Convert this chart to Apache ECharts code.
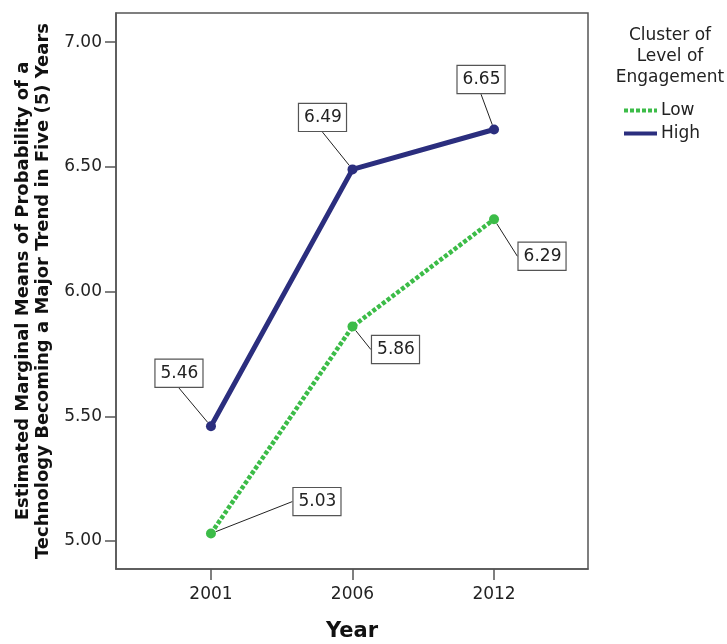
<!DOCTYPE html>
<html>
<head>
<meta charset="utf-8">
<script src="https://cdn.jsdelivr.net/npm/echarts@6/dist/echarts.min.js"></script>
<style>
  html, body { margin: 0; padding: 0; background: #fff; }
  #chart { width: 727px; height: 644px; }
</style>
</head>
<body>
<div id="chart"></div>
<script>
// Survey years on the x axis
const years = ['2001', '2006', '2012'];
// Estimated marginal means per engagement cluster
const lowValues = [5.03, 5.86, 6.29];
const highValues = [5.46, 6.49, 6.65];
// Y axis tick values
const yTicks = [5.0, 5.5, 6.0, 6.5, 7.0];

// label offsets (pixels) from each point to its callout box
const lowOffsets = [[106, -32], [43, 23], [48, 37]];
const highOffsets = [[-32, -53], [-30, -52], [-13, -50]];

const FONT = 'DejaVu Sans';
const navy = '#2b2e7e';
const green = '#3cbc48';

const chart = echarts.init(document.getElementById('chart'), null, { renderer: 'canvas' });

function pts(vals) { return vals.map((v, i) => [i, v]); }

const calloutLabel = {
  show: true,
  position: 'inside',
  formatter: p => p.value[1].toFixed(2),
  fontFamily: FONT,
  fontSize: 17,
  color: '#222',
  backgroundColor: '#fff',
  borderColor: '#555',
  borderWidth: 1.2,
  padding: [4, 4, 3, 5],
  lineHeight: 20
};

const option = {
  animation: false,
  backgroundColor: '#fff',
  grid: {
    left: 116, right: 139, top: 13, bottom: 75,
    outerBoundsMode: 'none',
    containLabel: false,
    show: true, borderColor: '#555', borderWidth: 1.5, backgroundColor: 'transparent'
  },
  title: {
    text: 'Cluster of\nLevel of\nEngagement',
    left: 665, top: 20, textAlign: 'center',
    textStyle: { fontFamily: FONT, fontSize: 17, fontWeight: 'normal', color: '#222', lineHeight: 21 }
  },
  legend: {
    orient: 'vertical',
    left: 617, top: 97,
    itemWidth: 33, itemHeight: 14, itemGap: 6,
    itemStyle: { opacity: 0 },
    lineStyle: { width: 4 },
    textStyle: { fontFamily: FONT, fontSize: 17, color: '#222', padding: [0, 0, 0, -1] },
    data: ['Low', 'High']
  },
  xAxis: {
    type: 'value',
    min: -0.671, max: 2.664,
    name: 'Year', nameLocation: 'middle', nameGap: 52,
    nameTextStyle: { fontFamily: FONT, fontSize: 21, fontWeight: 'bold', color: '#111' },
    axisLine: { show: true, onZero: false, lineStyle: { color: '#555', width: 1.5 } },
    axisTick: { show: true, inside: false, length: 11, lineStyle: { color: '#555', width: 1.5 }, customValues: [0, 1, 2] },
    axisLabel: {
      fontFamily: FONT, fontSize: 17, color: '#222', margin: 17,
      customValues: [0, 1, 2],
      formatter: v => years[Math.round(v)]
    },
    splitLine: { show: false }
  },
  yAxis: {
    type: 'value',
    min: 4.888, max: 7.117,
    name: 'Estimated Marginal Means of Probability of a\nTechnology Becoming a Major Trend in Five (5) Years',
    nameLocation: 'middle', nameGap: 62, nameRotate: 90,
    nameTextStyle: { fontFamily: FONT, fontSize: 18, fontWeight: 'bold', color: '#111', lineHeight: 20 },
    axisLine: { show: true, onZero: false, lineStyle: { color: '#555', width: 1.5 } },
    axisTick: { show: true, inside: false, length: 11, lineStyle: { color: '#555', width: 1.5 }, customValues: yTicks },
    axisLabel: {
      fontFamily: FONT, fontSize: 17, color: '#222', margin: 14,
      customValues: yTicks,
      formatter: v => v.toFixed(2)
    },
    splitLine: { show: false }
  },
  series: [
    {
      name: 'Low', type: 'line', data: pts(lowValues),
      symbol: 'circle', symbolSize: 10,
      itemStyle: { color: green },
      lineStyle: { color: green, width: 4.5, type: [4, 2] },
      label: calloutLabel,
      labelLine: { show: true, lineStyle: { color: '#222', width: 1 } },
      labelLayout: p => ({ dx: lowOffsets[p.dataIndex][0], dy: lowOffsets[p.dataIndex][1] }),
      z: 3
    },
    {
      name: 'High', type: 'line', data: pts(highValues),
      symbol: 'circle', symbolSize: 10,
      itemStyle: { color: navy },
      lineStyle: { color: navy, width: 5 },
      label: calloutLabel,
      labelLine: { show: true, lineStyle: { color: '#222', width: 1 } },
      labelLayout: p => ({ dx: highOffsets[p.dataIndex][0], dy: highOffsets[p.dataIndex][1] }),
      z: 4
    }
  ]
};

chart.setOption(option);
</script>
</body>
</html>
